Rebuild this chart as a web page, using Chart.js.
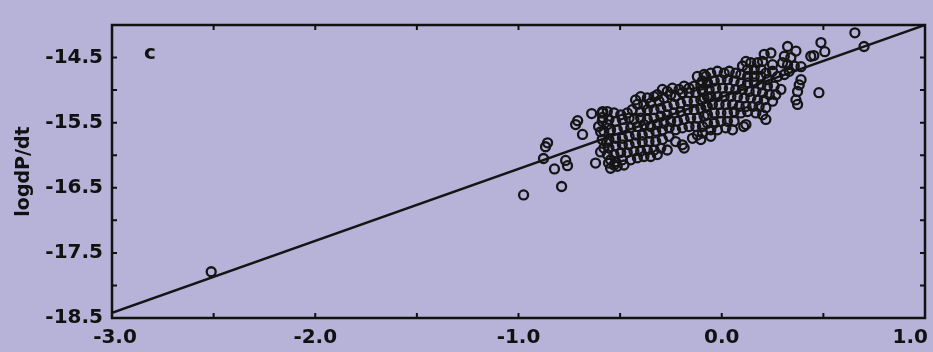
<!DOCTYPE html>
<html>
<head>
<meta charset="utf-8">
<script src="https://cdn.jsdelivr.net/npm/chart.js@4.4.1/dist/chart.umd.min.js"></script>
<style>
  html, body { margin: 0; padding: 0; background: #b6b2d8; }
  #wrap { width: 933px; height: 352px; }
</style>
</head>
<body>
<div id="wrap"><canvas id="rateChart" width="933" height="352"></canvas></div>
<script>
// scatter points, grouped by region of the cloud
const lowTail = [
  [-2.512, -17.79],
  [-0.975, -16.61], [-0.788, -16.48], [-0.823, -16.21], [-0.759, -16.16], [-0.768, -16.08],
  [-0.877, -16.05], [-0.857, -15.81], [-0.867, -15.87], [-0.709, -15.47], [-0.719, -15.53],
  [-0.685, -15.68], [-0.640, -15.36], [-0.621, -16.12], [-0.596, -15.95], [-0.586, -15.33],
  [-0.586, -15.42], [-0.606, -15.56], [-0.596, -15.64], [-0.567, -15.81], [-0.562, -15.53],
  [-0.557, -16.12]
];

const cloudWest = [
  [-0.120, -14.79], [-0.087, -14.76], [-0.071, -14.89], [-0.103, -14.92], [-0.136, -14.94],
  [-0.161, -14.97], [-0.185, -14.94], [-0.210, -14.99], [-0.243, -14.97], [-0.268, -15.02],
  [-0.292, -14.99], [-0.317, -15.07], [-0.333, -15.10], [-0.366, -15.12], [-0.399, -15.10],
  [-0.424, -15.15], [-0.415, -15.22], [-0.383, -15.22], [-0.350, -15.20], [-0.309, -15.17],
  [-0.284, -15.12], [-0.251, -15.07], [-0.227, -15.10], [-0.194, -15.04], [-0.161, -15.04],
  [-0.128, -15.04], [-0.095, -15.02], [-0.071, -15.10], [-0.103, -15.15], [-0.136, -15.17],
  [-0.169, -15.17], [-0.202, -15.20], [-0.235, -15.22], [-0.268, -15.25], [-0.300, -15.28],
  [-0.333, -15.30], [-0.366, -15.30], [-0.399, -15.33], [-0.440, -15.30], [-0.465, -15.35],
  [-0.497, -15.38], [-0.530, -15.35], [-0.563, -15.33], [-0.588, -15.35], [-0.588, -15.48],
  [-0.555, -15.45], [-0.522, -15.48], [-0.489, -15.45], [-0.456, -15.43], [-0.432, -15.45],
  [-0.399, -15.43], [-0.366, -15.45], [-0.333, -15.43], [-0.300, -15.40], [-0.268, -15.38],
  [-0.235, -15.35], [-0.202, -15.33], [-0.169, -15.30], [-0.136, -15.30], [-0.103, -15.28],
  [-0.071, -15.25], [-0.087, -15.40], [-0.120, -15.43], [-0.153, -15.43], [-0.185, -15.45],
  [-0.218, -15.48], [-0.251, -15.48], [-0.284, -15.51], [-0.317, -15.53], [-0.350, -15.56],
  [-0.383, -15.53], [-0.415, -15.56], [-0.448, -15.58], [-0.481, -15.58], [-0.514, -15.61],
  [-0.547, -15.61], [-0.580, -15.63], [-0.588, -15.76], [-0.555, -15.76], [-0.522, -15.74],
  [-0.489, -15.74], [-0.456, -15.71], [-0.424, -15.69], [-0.391, -15.69], [-0.358, -15.66],
  [-0.325, -15.63], [-0.292, -15.61], [-0.259, -15.58], [-0.227, -15.61], [-0.194, -15.58],
  [-0.161, -15.56], [-0.128, -15.56], [-0.095, -15.56], [-0.120, -15.69], [-0.103, -15.76],
  [-0.144, -15.74], [-0.194, -15.84], [-0.185, -15.89], [-0.227, -15.79], [-0.259, -15.71],
  [-0.292, -15.76], [-0.325, -15.79], [-0.358, -15.79], [-0.391, -15.79], [-0.424, -15.81],
  [-0.456, -15.84], [-0.489, -15.84], [-0.522, -15.86], [-0.555, -15.89], [-0.580, -15.89],
  [-0.563, -15.99], [-0.530, -15.99], [-0.497, -15.96], [-0.465, -15.96], [-0.432, -15.94],
  [-0.399, -15.94], [-0.366, -15.92], [-0.333, -15.92], [-0.300, -15.89], [-0.268, -15.92],
  [-0.547, -16.07], [-0.522, -16.10], [-0.489, -16.07], [-0.448, -16.07], [-0.415, -16.04],
  [-0.383, -16.02], [-0.350, -16.02], [-0.317, -15.99], [-0.530, -16.15], [-0.481, -16.15],
  [-0.547, -16.20], [-0.514, -16.17]
];

const cloudEast = [
  [0.324, -14.33], [0.365, -14.40], [0.340, -14.50], [0.308, -14.48], [0.299, -14.58],
  [0.324, -14.61], [0.357, -14.63], [0.332, -14.71], [0.308, -14.76], [0.275, -14.79],
  [0.250, -14.71], [0.250, -14.61], [0.242, -14.43], [0.209, -14.45], [0.201, -14.56],
  [0.176, -14.58], [0.143, -14.58], [0.119, -14.56], [0.102, -14.63], [0.127, -14.68],
  [0.160, -14.68], [0.193, -14.68], [0.217, -14.74], [0.225, -14.84], [0.193, -14.79],
  [0.160, -14.79], [0.127, -14.79], [0.094, -14.76], [0.069, -14.74], [0.037, -14.71],
  [0.012, -14.74], [-0.021, -14.71], [-0.054, -14.74], [-0.078, -14.79], [-0.095, -14.86],
  [-0.070, -14.89], [-0.037, -14.86], [-0.004, -14.84], [0.028, -14.84], [0.061, -14.86],
  [0.094, -14.89], [0.127, -14.89], [0.160, -14.89], [0.193, -14.92], [0.225, -14.94],
  [0.258, -14.94], [0.291, -14.99], [0.266, -15.07], [0.234, -15.07], [0.201, -15.04],
  [0.168, -15.02], [0.135, -15.02], [0.102, -14.99], [0.069, -14.99], [0.037, -14.97],
  [0.004, -14.97], [-0.029, -14.97], [-0.062, -14.99], [-0.095, -14.99], [-0.087, -15.12],
  [-0.054, -15.10], [-0.021, -15.10], [0.012, -15.10], [0.045, -15.10], [0.078, -15.10],
  [0.110, -15.12], [0.143, -15.12], [0.176, -15.15], [0.209, -15.15], [0.250, -15.17],
  [0.217, -15.27], [0.184, -15.25], [0.152, -15.25], [0.119, -15.25], [0.086, -15.25],
  [0.053, -15.22], [0.020, -15.22], [-0.013, -15.22], [-0.046, -15.22], [-0.078, -15.25],
  [-0.070, -15.38], [-0.037, -15.35], [-0.004, -15.35], [0.028, -15.35], [0.061, -15.33],
  [0.094, -15.35], [0.127, -15.33], [0.168, -15.35], [0.201, -15.38], [0.217, -15.45],
  [0.119, -15.53], [0.108, -15.56], [0.061, -15.48], [0.028, -15.48], [-0.004, -15.48],
  [-0.037, -15.51], [-0.070, -15.51], [-0.054, -15.61], [-0.021, -15.61], [0.020, -15.58],
  [0.053, -15.61], [-0.054, -15.71], [-0.095, -15.66]
];

const upperTail = [
  [0.390, -14.84], [0.381, -14.92], [0.373, -15.02], [0.365, -15.15], [0.373, -15.22],
  [0.390, -14.64], [0.478, -15.04], [0.438, -14.48], [0.453, -14.47], [0.488, -14.27],
  [0.507, -14.41], [0.700, -14.33], [0.655, -14.12]
];

// fitted line
const fitX = [-3.0, 1.0];
const fitY = [-18.42, -14.0];

const xTickLabels = ['-3.0', '-2.0', '-1.0', '0.0', '1.0'];
const yTickLabels = ['-18.5', '-17.5', '-16.5', '-15.5', '-14.5'];

const points = [...lowTail, ...cloudWest, ...cloudEast, ...upperTail].map(([x, y]) => ({ x, y }));
const fitLine = fitX.map((x, i) => ({ x, y: fitY[i] }));

Chart.defaults.font.family = "'DejaVu Sans', sans-serif";
Chart.defaults.color = '#111';

// frame, inward tick marks on all sides, x labels and panel letter
const framePlugin = {
  id: 'frame',
  afterDraw(chart) {
    const { ctx, chartArea: a, scales } = chart;
    const xs = scales.x, ys = scales.y;
    ctx.save();
    ctx.strokeStyle = '#111';
    ctx.lineWidth = 2.5;
    ctx.strokeRect(a.left, a.top, a.right - a.left, a.bottom - a.top);

    ctx.lineWidth = 2;
    const len = 5;
    ctx.beginPath();
    xs.ticks.forEach(t => {
      const px = xs.getPixelForValue(t.value);
      ctx.moveTo(px, a.bottom); ctx.lineTo(px, a.bottom - len);
      ctx.moveTo(px, a.top); ctx.lineTo(px, a.top + len);
    });
    ys.ticks.forEach(t => {
      const py = ys.getPixelForValue(t.value);
      ctx.moveTo(a.left, py); ctx.lineTo(a.left + len, py);
      ctx.moveTo(a.right, py); ctx.lineTo(a.right - len, py);
    });
    ctx.stroke();

    ctx.fillStyle = '#111';
    ctx.font = "bold 20px 'DejaVu Sans'";
    ctx.textAlign = 'center';
    ctx.textBaseline = 'middle';
    xs.ticks.forEach(t => {
      const lab = t.value.toFixed(1);
      if (!xTickLabels.includes(lab)) return;
      let px = xs.getPixelForValue(t.value);
      const w = ctx.measureText(lab).width;
      px = Math.min(px, chart.width - w / 2 - 5);
      ctx.fillText(lab, px + (t.value === -3 ? 3 : 0), 338);
    });

    ctx.textAlign = 'left';
    ctx.textBaseline = 'alphabetic';
    ctx.fillText('c', a.left + 32, a.top + 34);
    ctx.restore();
  }
};

const ctx = document.getElementById('rateChart').getContext('2d');
new Chart(ctx, {
  type: 'scatter',
  data: {
    datasets: [
      {
        data: points,
        pointRadius: 4.5,
        pointBorderWidth: 2.3,
        pointBorderColor: '#151515',
        pointBackgroundColor: 'rgba(0,0,0,0)',
        showLine: false
      },
      {
        type: 'line',
        data: fitLine,
        borderColor: '#151515',
        borderWidth: 2.5,
        pointRadius: 0,
        fill: false
      }
    ]
  },
  options: {
    responsive: false,
    animation: false,
    layout: { padding: { top: 25, right: 8, left: 0, bottom: 0 } },
    plugins: { legend: { display: false }, tooltip: { enabled: false } },
    scales: {
      x: {
        type: 'linear',
        min: -3.0,
        max: 1.0,
        ticks: { stepSize: 0.5, display: false },
        grid: { display: false },
        border: { display: false },
        afterFit(scale) { scale.height = 34; }
      },
      y: {
        type: 'linear',
        min: -18.5,
        max: -14.0,
        ticks: {
          stepSize: 0.5,
          padding: 9,
          font: { size: 20, weight: 'bold' },
          color: '#111',
          callback: v => {
            const lab = Number(v).toFixed(1);
            return yTickLabels.includes(lab) ? lab : '';
          }
        },
        grid: { display: false, drawTicks: false },
        border: { display: false },
        title: {
          display: true,
          text: 'logdP/dt',
          font: { size: 19, weight: 'bold' },
          color: '#111',
          padding: { top: 13, bottom: 0 }
        },
        afterFit(scale) { scale.width = 112; }
      }
    }
  },
  plugins: [framePlugin]
});
</script>
</body>
</html>
